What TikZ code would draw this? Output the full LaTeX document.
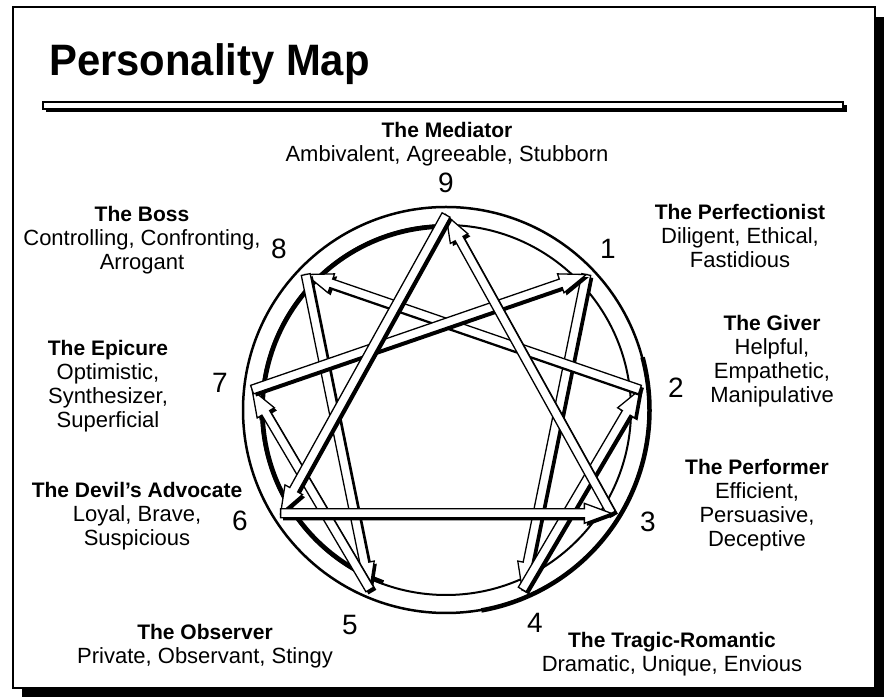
\documentclass[tikz,border=0pt]{standalone}
\usepackage{fontspec}
\setmainfont{Liberation Sans}
\usetikzlibrary{calc}

% bold first line of a type label
\newcommand{\typename}[1]{{\fontsize{21}{24}\selectfont\bfseries #1}}

% hollow arrow with a shadow, from #1 to #2
\newcommand{\hollowarrow}[2]{%
  \coordinate (hb) at ($(#2)!27pt!(#1)$);
  \coordinate (q1) at ($(#1)!4.5pt!90:(#2)$);
  \coordinate (q2) at ($(hb)!4.5pt!90:(#2)$);
  \coordinate (q3) at ($(hb)!10pt!90:(#2)$);
  \coordinate (q4) at ($(hb)!10pt!-90:(#2)$);
  \coordinate (q5) at ($(hb)!4.5pt!-90:(#2)$);
  \coordinate (q6) at ($(#1)!4.5pt!-90:(#2)$);
  \fill[arrowshade] ([shift={(2.6pt,-2.6pt)}]q1) -- ([shift={(2.6pt,-2.6pt)}]q2) -- ([shift={(2.6pt,-2.6pt)}]q3)
     -- ([shift={(2.6pt,-2.6pt)}]#2) -- ([shift={(2.6pt,-2.6pt)}]q4) -- ([shift={(2.6pt,-2.6pt)}]q5)
     -- ([shift={(2.6pt,-2.6pt)}]q6) -- cycle;
  \filldraw[arrowline] (q1) -- (q2) -- (q3) -- (#2) -- (q4) -- (q5) -- (q6) -- cycle;
}

\begin{document}
\begin{tikzpicture}[x=1pt, y=1pt,
  typebox/.style={align=center, anchor=north, inner sep=0pt, font=\fontsize{22}{24}\selectfont},
  pointnum/.style={inner sep=0pt, font=\fontsize{28}{28}\selectfont},
  arrowline/.style={draw=black, fill=white, line width=1.3pt, line join=miter},
  arrowshade/.style={fill=black}]
\useasboundingbox (0,0) rectangle (885,698);

% frame and title
\fill (22,1) rectangle (884,681);
\filldraw[fill=white, line width=2pt] (13,10) rectangle (875,691);
\node[anchor=base west, inner sep=0pt, font=\fontsize{44}{44}\selectfont\bfseries] (title) at (49,622) {\scalebox{0.95}[1]{Personality Map}};
\fill (46,586) rectangle (847,593);
\filldraw[fill=white, line width=1.2pt] (43,589) rectangle (843,596);

% ring
\coordinate (c) at (446,288);
\draw[line width=2.5pt] (c) circle[radius=203pt];
\draw[line width=4.5pt] ($(c)+(-80:203.5pt)$) arc[start angle=-80, end angle=15, radius=203.5pt];
\draw[line width=2pt] (c) circle[radius=185pt];
\draw[line width=4.5pt] ($(c)+(90:183.5pt)$) arc[start angle=90, end angle=250, radius=183.5pt];

\foreach \n/\a in {9/90, 1/44, 2/6, 3/-32, 4/-67, 5/-113, 6/-148, 7/174, 8/136}
  \coordinate (p\n) at ($(c)+(\a:195pt)$);

% hexad, then triangle
\hollowarrow{p1}{p4}
\hollowarrow{p4}{p2}
\hollowarrow{p2}{p8}
\hollowarrow{p8}{p5}
\hollowarrow{p5}{p7}
\hollowarrow{p7}{p1}
\hollowarrow{p3}{p9}
\hollowarrow{p9}{p6}
\hollowarrow{p6}{p3}

% numbers
\node[pointnum] (d9) at (446,515) {9};
\node[pointnum] (d1) at (608,449) {1};
\node[pointnum] (d2) at (676,310) {2};
\node[pointnum] (d3) at (648,176) {3};
\node[pointnum] (d4) at (535,75) {4};
\node[pointnum] (d5) at (350,73) {5};
\node[pointnum] (d6) at (240,177) {6};
\node[pointnum] (d7) at (220,315) {7};
\node[pointnum] (d8) at (279,449) {8};

% types
\node[typebox] (mediator) at (447,576) {\typename{The Mediator}\\ Ambivalent, Agreeable, Stubborn};
\node[typebox] (boss) at (142,492) {\typename{The Boss}\\ Controlling, Confronting,\\ Arrogant};
\node[typebox] (perfectionist) at (740,494) {\typename{The Perfectionist}\\ Diligent, Ethical,\\ Fastidious};
\node[typebox] (epicure) at (108,358) {\typename{The Epicure}\\ Optimistic,\\ Synthesizer,\\ Superficial};
\node[typebox] (giver) at (772,383) {\typename{The Giver}\\ Helpful,\\ Empathetic,\\ Manipulative};
\node[typebox] (advocate) at (137,216) {\typename{The Devil’s Advocate}\\ Loyal, Brave,\\ Suspicious};
\node[typebox] (performer) at (757,239) {\typename{The Performer}\\ Efficient,\\ Persuasive,\\ Deceptive};
\node[typebox] (observer) at (205,74) {\typename{The Observer}\\ Private, Observant, Stingy};
\node[typebox] (romantic) at (672,66) {\typename{The Tragic-Romantic}\\ Dramatic, Unique, Envious};
\end{tikzpicture}
\end{document}
